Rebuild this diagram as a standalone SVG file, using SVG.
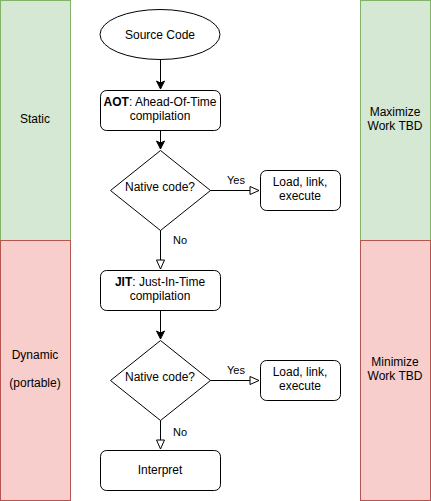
<svg xmlns="http://www.w3.org/2000/svg" width="431" height="501" viewBox="0 0 431 501">
<defs>
<marker id="classic" viewBox="0 0 10 10" refX="9" refY="5" markerWidth="10" markerHeight="10" markerUnits="userSpaceOnUse" orient="auto">
<path d="M1,1 L9,5 L1,9 L3,5 Z" fill="#000" stroke="#000" stroke-width="1"/>
</marker>
<marker id="block" viewBox="0 0 12 12" refX="11" refY="6" markerWidth="12" markerHeight="12" markerUnits="userSpaceOnUse" orient="auto">
<path d="M2,2 L11,6 L2,10 Z" fill="#fff" stroke="#000" stroke-width="1"/>
</marker>
</defs>
<style>
text{font-family:"Liberation Sans",Arial,sans-serif;font-size:12px;fill:#000;text-anchor:middle}
.sm{font-size:11px}
.node{fill:#fff;stroke:#000;stroke-width:1}
.green{fill:#d5e8d4;stroke:#82b366}
.red{fill:#f8cecc;stroke:#b85450}
.edge{fill:none;stroke:#000;stroke-width:1}
</style>
<rect width="431" height="501" fill="#fff"/>
<g id="band-static"><rect class="green" x="0.5" y="0.5" width="70" height="240"/><text x="35" y="123">Static</text></g>
<g id="band-dynamic"><rect class="red" x="0.5" y="240.5" width="70" height="260"/><text x="35" y="359">Dynamic</text><text x="35" y="387">(portable)</text></g>
<g id="band-max"><rect class="green" x="360.5" y="0.5" width="70" height="240"/><text x="395" y="116">Maximize</text><text x="395" y="130">Work TBD</text></g>
<g id="band-min"><rect class="red" x="360.5" y="240.5" width="70" height="260"/><text x="395" y="366">Minimize</text><text x="395" y="380">Work TBD</text></g>
<g id="connectors">
<path class="edge" d="M160.5,60 V89" marker-end="url(#classic)"/>
<path class="edge" d="M160.5,130 V149" marker-end="url(#classic)"/>
<path class="edge" d="M210,190.5 H259" marker-end="url(#block)"/>
<path class="edge" d="M160.5,230 V269" marker-end="url(#block)"/>
<path class="edge" d="M160.5,310 V339" marker-end="url(#classic)"/>
<path class="edge" d="M210,380.5 H259" marker-end="url(#block)"/>
<path class="edge" d="M160.5,420 V449" marker-end="url(#block)"/>
<text class="sm" x="236" y="184">Yes</text>
<text class="sm" x="180" y="244">No</text>
<text class="sm" x="236" y="374">Yes</text>
<text class="sm" x="180" y="436">No</text>
</g>
<g id="source"><ellipse class="node" cx="160" cy="34.5" rx="60" ry="25"/><text x="160" y="38.5">Source Code</text></g>
<g id="aot"><rect class="node" x="100.5" y="90.5" width="120" height="40" rx="6"/><text x="160" y="106"><tspan font-weight="bold">AOT</tspan>: Ahead-Of-Time</text><text x="160" y="120">compilation</text></g>
<g id="dec1"><path class="node" d="M160.5,150.5 L210.5,190.5 L160.5,230.5 L110.5,190.5 Z"/><text x="160" y="191">Native code?</text></g>
<g id="load1"><rect class="node" x="260.5" y="170.5" width="80" height="40" rx="6"/><text x="300" y="186">Load, link,</text><text x="300" y="200">execute</text></g>
<g id="jit"><rect class="node" x="100.5" y="270.5" width="120" height="40" rx="6"/><text x="160" y="286"><tspan font-weight="bold">JIT</tspan>: Just-In-Time</text><text x="160" y="300">compilation</text></g>
<g id="dec2"><path class="node" d="M160.5,340.5 L210.5,380.5 L160.5,420.5 L110.5,380.5 Z"/><text x="160" y="381">Native code?</text></g>
<g id="load2"><rect class="node" x="260.5" y="360.5" width="80" height="40" rx="6"/><text x="300" y="376">Load, link,</text><text x="300" y="390">execute</text></g>
<g id="interp"><rect class="node" x="100.5" y="450.5" width="120" height="40" rx="6"/><text x="160" y="474">Interpret</text></g>
</svg>
